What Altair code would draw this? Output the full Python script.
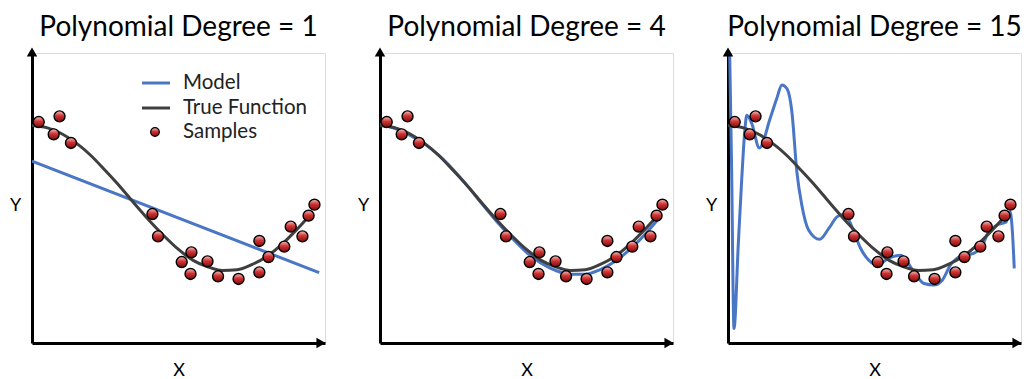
import altair as alt
import pandas as pd

# ---- data ----
sample_x = [0.023, 0.094, 0.074, 0.133, 0.411, 0.430, 0.511, 0.544, 0.541, 0.599,
            0.635, 0.705, 0.776, 0.776, 0.807, 0.861, 0.883, 0.923, 0.944, 0.964]
sample_y = [1.048, 1.126, 0.878, 0.759, -0.221, -0.529, -0.883, -0.749, -1.048, -0.874,
            -1.080, -1.117, -1.025, -0.593, -0.814, -0.671, -0.395, -0.529, -0.244, -0.092]

true_x = [0.00, 0.05, 0.10, 0.15, 0.20, 0.25, 0.30, 0.35, 0.40, 0.45,
          0.50, 0.55, 0.60, 0.65, 0.70, 0.75, 0.80, 0.85, 0.90, 0.95]
true_y = [1.00, 0.97, 0.89, 0.76, 0.59, 0.38, 0.16, -0.08, -0.31, -0.52,
          -0.71, -0.86, -0.95, -1.00, -0.99, -0.92, -0.81, -0.65, -0.45, -0.23]

deg1_x = [0.00, 0.98]
deg1_y = [0.51, -1.03]

deg4_x = true_x
deg4_y = [1.01, 0.96, 0.87, 0.75, 0.59, 0.39, 0.16, -0.09, -0.33, -0.55,
          -0.75, -0.90, -1.00, -1.05, -1.05, -0.99, -0.88, -0.72, -0.52, -0.29]

deg15_x = [0.004, 0.012, 0.0205, 0.035, 0.047, 0.058, 0.064, 0.081, 0.107, 0.144,
           0.167, 0.184, 0.201, 0.218, 0.235, 0.252, 0.275, 0.313, 0.344, 0.372,
           0.389, 0.412, 0.429, 0.452, 0.481, 0.509, 0.549, 0.589, 0.635, 0.669,
           0.703, 0.732, 0.760, 0.795, 0.840, 0.869, 0.886, 0.920, 0.949, 0.963,
           0.971, 0.977]
deg15_y = [2.40, 0.50, -1.80, -0.65, 0.27, 0.96, 1.14, 1.03, 0.69, 1.10,
           1.38, 1.56, 1.51, 1.19, 0.36, -0.10, -0.44, -0.57, -0.42, -0.26,
           -0.23, -0.30, -0.46, -0.69, -0.86, -0.92, -0.83, -0.79, -1.02, -1.18,
           -1.20, -1.13, -0.92, -0.80, -0.76, -0.65, -0.49, -0.37, -0.33, -0.19,
           -0.49, -0.97]

degrees = [1, 4, 15]
legend_labels = ["Model", "True Function", "Samples"]

# ---- styling ----
FONT = "Lato"
BLUE = "#4a76c6"
GRAY = "#3f3f3f"
BALL = alt.LinearGradient(
    gradient="linear",
    stops=[alt.GradientStop(color="#f6c2c2", offset=0),
           alt.GradientStop(color="#cf3333", offset=0.45),
           alt.GradientStop(color="#7d0b0b", offset=1)],
    x1=0, x2=0, y1=0, y2=1)

W, H = 293, 290
xs = alt.Scale(domain=[0, 1], nice=False, zero=False)
ys = alt.Scale(domain=[-2, 2], nice=False, zero=False)

xenc = alt.X("x:Q", scale=xs, axis=alt.Axis(
    title="X", labels=False, ticks=False, grid=False, domainWidth=3,
    domainColor="black", titleFont=FONT, titleFontSize=18, titleFontWeight="normal",
    titleColor="black", titlePadding=18))
yenc = alt.Y("y:Q", scale=ys, axis=alt.Axis(
    title="Y", labels=False, ticks=False, grid=False, domainWidth=3,
    domainColor="black", titleFont=FONT, titleFontSize=18, titleFontWeight="normal",
    titleColor="black", titleAngle=0, titleX=-17, titleY=152, titleAlign="center",
    titleBaseline="middle"))


def panel(deg, mx, my, with_legend=False):
    model_df = pd.DataFrame({"x": mx, "y": my})
    true_df = pd.DataFrame({"x": true_x, "y": true_y})
    samp_df = pd.DataFrame({"x": sample_x, "y": sample_y})
    one = pd.DataFrame({"x": [1.0], "y": [-2.0]})
    top = pd.DataFrame({"x": [0.0], "y": [2.0]})

    model = alt.Chart(model_df).mark_line(
        color=BLUE, strokeWidth=3, interpolate="monotone", clip=True
    ).encode(x=xenc, y=yenc)
    true = alt.Chart(true_df).mark_line(
        color=GRAY, strokeWidth=3, interpolate="monotone"
    ).encode(x=xenc, y=yenc)
    samples = alt.Chart(samp_df).mark_point(
        shape="circle", filled=True, fill=BALL, stroke="black", strokeWidth=1.4,
        size=120, opacity=1
    ).encode(x=xenc, y=yenc)
    arr_r = alt.Chart(one).mark_point(
        shape="triangle-right", filled=True, color="black", size=110, opacity=1, xOffset=-4
    ).encode(x=xenc, y=yenc)
    arr_u = alt.Chart(top).mark_point(
        shape="triangle-up", filled=True, color="black", size=110, opacity=1, yOffset=-1
    ).encode(x=xenc, y=yenc)

    layers = [model, true, samples, arr_r, arr_u]

    if with_legend:
        d0 = pd.DataFrame({"a": [0]})
        layers += [
            alt.Chart(d0).mark_rule(color=BLUE, strokeWidth=3).encode(
                x=alt.value(110), x2=alt.value(138), y=alt.value(30)),
            alt.Chart(d0).mark_rule(color=GRAY, strokeWidth=3).encode(
                x=alt.value(110), x2=alt.value(138), y=alt.value(55)),
            alt.Chart(d0).mark_point(shape="circle", filled=True, fill=BALL, stroke="black",
                                     strokeWidth=1.2, size=75, opacity=1).encode(
                x=alt.value(123), y=alt.value(79)),
        ]
        for lab, yy in zip(legend_labels, [30, 55, 79]):
            layers.append(
                alt.Chart(d0).mark_text(text=lab, align="left", baseline="middle",
                                        font=FONT, fontSize=20.5, color="#222222").encode(
                    x=alt.value(151), y=alt.value(yy)))

    return alt.layer(*layers).properties(
        width=W, height=H,
        title=alt.TitleParams(f"Polynomial Degree = {deg}", font=FONT, fontSize=28,
                              fontWeight="normal", color="black", anchor="middle", offset=5))


chart = alt.hconcat(
    panel(degrees[0], deg1_x, deg1_y, with_legend=True),
    panel(degrees[1], deg4_x, deg4_y),
    panel(degrees[2], deg15_x, deg15_y),
    spacing=55, bounds="flush"
).properties(
    padding={"left": 0, "top": 5, "right": 0, "bottom": 0}
).configure_view(stroke=None).configure(background="white")

chart.save("out.html", embed_options={"renderer": "svg", "actions": False})
